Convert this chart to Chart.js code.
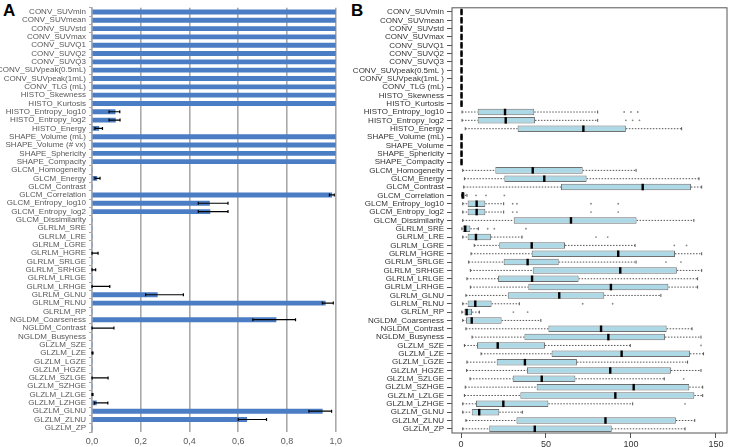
<!DOCTYPE html>
<html>
<head>
<meta charset="utf-8">
<script src="https://cdn.jsdelivr.net/npm/chart.js@4.4.1/dist/chart.umd.min.js"></script>
<style>
  body { margin: 0; background: #fff; width: 729px; height: 447px; position: relative; overflow: hidden; }
  canvas { position: absolute; top: 0; }
  #chartA { left: 0; }
  #chartB { left: 352px; }
  .tag { position: absolute; top: 1px; font: bold 17px "Liberation Sans", Arial, sans-serif; color: #000; }
</style>
</head>
<body>
<div class="tag" style="left:3px">A</div>
<div class="tag" style="left:351px">B</div>
<canvas id="chartA" width="346" height="447"></canvas>
<canvas id="chartB" width="377" height="447"></canvas>
<script>
const labelsA = [
  "CONV_SUVmin", "CONV_SUVmean", "CONV_SUVstd", "CONV_SUVmax", "CONV_SUVQ1", "CONV_SUVQ2", "CONV_SUVQ3",
  "CONV_SUVpeak(0.5mL)", "CONV_SUVpeak(1mL)", "CONV_TLG (mL)", "HISTO_Skewness", "HISTO_Kurtosis",
  "HISTO_Entropy_log10", "HISTO_Entropy_log2", "HISTO_Energy", "SHAPE_Volume (mL)", "SHAPE_Volume (# vx)",
  "SHAPE_Sphericity", "SHAPE_Compacity", "GLCM_Homogeneity", "GLCM_Energy", "GLCM_Contrast",
  "GLCM_Correlation", "GLCM_Entropy_log10", "GLCM_Entropy_log2", "GLCM_Dissimilarity", "GLRLM_SRE",
  "GLRLM_LRE", "GLRLM_LGRE", "GLRLM_HGRE", "GLRLM_SRLGE", "GLRLM_SRHGE", "GLRLM_LRLGE", "GLRLM_LRHGE",
  "GLRLM_GLNU", "GLRLM_RLNU", "GLRLM_RP", "NGLDM_Coarseness", "NGLDM_Contrast", "NGLDM_Busyness",
  "GLZLM_SZE", "GLZLM_LZE", "GLZLM_LGZE", "GLZLM_HGZE", "GLZLM_SZLGE", "GLZLM_SZHGE", "GLZLM_LZLGE",
  "GLZLM_LZHGE", "GLZLM_GLNU", "GLZLM_ZLNU", "GLZLM_ZP"
];
const labelsB = labelsA.map(l => l
  .replace("(0.5mL)", "(0.5mL )").replace("(1mL)", "(1mL )").replace("SHAPE_Volume (# vx)", "SHAPE_Volume"));

// panel A: bar value and error bar ends (null = no error bar)
const meanA = [1, 1, 1, 1, 1, 1, 1, 1, 1, 1, 1, 1, 0.095, 0.096, 0.028, 1, 1, 1, 1,
  0, 0.02, 0, 0.984, 0.482, 0.484, 0, 0, 0, 0, 0, 0, 0, 0, 0, 0.268, 0.957, 0,
  0.755, 0, 0, 0, 0, 0, 0, 0, 0, 0, 0.018, 0.945, 0.635, 0];
const errLowA = [null, null, null, null, null, null, null, null, null, null, null, null, 0.07, 0.07, 0.012, null, null, null, null,
  null, 0.012, null, 0.974, 0.436, 0.436, null, null, null, null, 0, null, 0, null, 0, 0.22, 0.945, null,
  0.66, 0, null, null, 0, null, null, 0, null, 0, 0.01, 0.89, 0.6, null];
const errHighA = [null, null, null, null, null, null, null, null, null, null, null, null, 0.114, 0.115, 0.043, null, null, null, null,
  null, 0.033, null, 0.994, 0.558, 0.558, null, null, null, null, 0.025, null, 0.015, null, 0.073, 0.375, 0.99, null,
  0.835, 0.09, null, null, 0.004, null, null, 0.066, null, 0.004, 0.065, 0.983, 0.716, null];
const ticksA = [0, 0.2, 0.4, 0.6, 0.8, 1.0];

// panel B: box plot five numbers and outliers
const loB = [0, 0, 0, 0, 0, 0, 0, 0, 0, 0, 0, 0, 0.6, 0.6, 2.5, 0, 0, 0, 0,
  1, 2, 1.6, 0.3, 1, 1, 1, 0.5, 1, 7.8, 5.9, 4.5, 5.5, 3.5, 5.5, 2.9, 1, 0.5,
  1, 2.9, 6.5, 2, 11.8, 3.5, 3.3, 5.3, 2.5, 2, 1, 1, 2.9, 1];
const q1B = [0, 0, 0, 0, 0, 0, 0, 0, 0, 0, 0, 0, 9.8, 9.8, 33.3, 0, 0, 0, 0,
  20.2, 25.5, 58.8, 0.4, 3.9, 3.9, 31, 1, 3.9, 22.5, 41.6, 25.1, 42.2, 21.8, 39.6, 27.5, 3.9, 2,
  2.9, 51.4, 37.3, 9.4, 53.3, 21, 38.8, 30.4, 44.5, 34.9, 8.8, 6.3, 32.6, 16.6];
const medB = [0.3, 0.3, 0.3, 0.3, 0.3, 0.3, 0.3, 0.3, 0.3, 0.3, 0.3, 0.3, 25.9, 26.3, 72, 0.3, 0.3, 0.3, 0.3,
  42.2, 49, 106.9, 1, 9.2, 9.2, 64.7, 2.5, 8.8, 41.6, 92.5, 39.2, 93.7, 41.8, 88.2, 57.8, 8.4, 3.3,
  6.3, 82.4, 86.7, 21.6, 94.5, 37.6, 87.8, 47.5, 101.6, 90.8, 24.9, 10.7, 85, 43.4];
const q3B = [0.6, 0.6, 0.6, 0.6, 0.6, 0.6, 0.6, 0.6, 0.6, 0.6, 0.6, 0.6, 43.1, 43.5, 97, 0.6, 0.6, 0.6, 0.6,
  71.6, 73.9, 135.3, 2.2, 14.3, 14.3, 103.3, 5.5, 17.6, 61.2, 125.9, 57.5, 127, 69.2, 122, 84.3, 18, 6.5,
  23.9, 121, 120, 49.4, 134.7, 68.2, 123.5, 67.3, 134.3, 137.3, 51.4, 22.5, 126.4, 88.7];
const hiB = [0.6, 0.6, 0.6, 0.6, 0.6, 0.6, 0.6, 0.6, 0.6, 0.6, 0.6, 0.6, 80.4, 80.4, 129.8, 0.6, 0.6, 0.6, 0.6,
  103, 140, 141.6, 3.5, 25.1, 25.1, 137, 10.2, 35.9, 102.4, 141.6, 103, 141.6, 139.2, 139.2, 117.6, 34.3, 10.8,
  47, 135.9, 141.2, 99.6, 142.7, 133.3, 141.2, 119.6, 142.2, 142.2, 101, 36.1, 137.5, 131.8];
const outB = [[], [], [], [], [], [], [], [], [], [], [], [], [96, 100, 104], [97, 101, 105], [], [], [], [], [],
  [], [], [], [8.8, 14.7, 25.5], [30.4, 32.9, 76.5, 92.5], [30.4, 32.9, 76.5, 92.5], [], [15.7, 19.6, 38.2], [79.4, 86.3],
  [125.5, 132.7], [], [120.6, 129.4], [], [], [], [], [71.6, 89.2], [30.8, 39.2],
  [], [], [], [141.2], [], [], [], [131], [], [], [131.8], [], [], []];
const ticksB = [0, 50, 100, 150];

const fontA = { family: "'Liberation Sans', Arial, sans-serif", size: 8 };
const fontB = { family: "'Liberation Sans', Arial, sans-serif", size: 8 };
const fontTicks = { family: "'Liberation Sans', Arial, sans-serif", size: 9 };

const errorBars = {
  id: 'errorBars',
  afterDatasetsDraw(chart) {
    const { ctx, scales: { x, y } } = chart;
    ctx.save();
    ctx.strokeStyle = '#000';
    ctx.lineWidth = 1.2;
    errLowA.forEach((lo, i) => {
      if (lo === null) return;
      const py = y.getPixelForValue(i);
      const x1 = x.getPixelForValue(lo), x2 = x.getPixelForValue(errHighA[i]);
      ctx.beginPath();
      ctx.moveTo(x1, py); ctx.lineTo(x2, py);
      ctx.moveTo(x1, py - 1.5); ctx.lineTo(x1, py + 1.5);
      ctx.moveTo(x2, py - 1.5); ctx.lineTo(x2, py + 1.5);
      ctx.stroke();
    });
    ctx.restore();
  }
};

const boxParts = {
  id: 'boxParts',
  beforeDatasetsDraw(chart) {
    // dashed whiskers with end staples
    const { ctx, scales: { x, y } } = chart;
    ctx.save();
    ctx.strokeStyle = '#555';
    ctx.lineWidth = 1;
    loB.forEach((lo, i) => {
      const py = y.getPixelForValue(i);
      ctx.setLineDash([1.5, 1.5]);
      ctx.beginPath();
      ctx.moveTo(x.getPixelForValue(lo), py); ctx.lineTo(x.getPixelForValue(q1B[i]), py);
      ctx.moveTo(x.getPixelForValue(q3B[i]), py); ctx.lineTo(x.getPixelForValue(hiB[i]), py);
      ctx.stroke();
      ctx.setLineDash([]);
      ctx.beginPath();
      [lo, hiB[i]].forEach(v => {
        const px = x.getPixelForValue(v);
        ctx.moveTo(px, py - 1.5); ctx.lineTo(px, py + 1.5);
      });
      ctx.stroke();
    });
    ctx.restore();
  },
  afterDatasetsDraw(chart) {
    const { ctx, scales: { x, y } } = chart;
    const meta = chart.getDatasetMeta(0);
    ctx.save();
    // medians
    ctx.strokeStyle = '#000';
    ctx.lineWidth = 2.4;
    medB.forEach((m, i) => {
      const bar = meta.data[i];
      const px = x.getPixelForValue(m), h = bar.height / 2;
      ctx.beginPath();
      ctx.moveTo(px, bar.y - h); ctx.lineTo(px, bar.y + h);
      ctx.stroke();
    });
    // outliers
    ctx.fillStyle = '#888';
    outB.forEach((list, i) => {
      const py = y.getPixelForValue(i);
      list.forEach(v => {
        ctx.beginPath();
        ctx.arc(x.getPixelForValue(v), py, 0.9, 0, Math.PI * 2);
        ctx.fill();
      });
    });
    ctx.restore();
  },
  afterDraw(chart) {
    const { ctx, chartArea: a } = chart;
    ctx.save();
    ctx.strokeStyle = '#555';
    ctx.lineWidth = 1;
    ctx.strokeRect(a.left, a.top, a.right - a.left, a.bottom - a.top);
    ctx.restore();
  }
};

new Chart(document.getElementById('chartA'), {
  type: 'bar',
  data: {
    labels: labelsA,
    datasets: [{ data: meanA, backgroundColor: '#4a7dc4', barThickness: 4.2 }]
  },
  options: {
    indexAxis: 'y',
    responsive: false,
    animation: false,
    layout: { padding: { top: 1, right: 8, left: 0, bottom: 0 } },
    plugins: { legend: { display: false }, tooltip: { enabled: false } },
    scales: {
      x: {
        min: 0, max: 1,
        afterBuildTicks: s => { s.ticks = ticksA.map(v => ({ value: v })); },
        ticks: { font: fontTicks, color: '#595959', padding: 4, callback: v => v.toFixed(1).replace('.', ',') },
        grid: { color: '#a9a9a9', lineWidth: 1.6, drawTicks: false },
        border: { display: false },
        afterFit: s => { s.height = 15; }
      },
      y: {
        ticks: { font: fontA, color: '#595959', padding: 3, autoSkip: false },
        grid: { drawOnChartArea: false, tickLength: 3, color: '#a9a9a9' },
        border: { color: '#a9a9a9', width: 1.6 },
        afterFit: s => { s.width = 92; }
      }
    }
  },
  plugins: [errorBars]
});

new Chart(document.getElementById('chartB'), {
  type: 'bar',
  data: {
    labels: labelsB,
    datasets: [{
      data: q1B.map((v, i) => [v, q3B[i]]),
      backgroundColor: '#add8e6',
      borderColor: '#707070',
      borderWidth: 1,
      borderSkipped: false,
      barPercentage: 0.78,
      categoryPercentage: 1
    }]
  },
  options: {
    indexAxis: 'y',
    responsive: false,
    animation: false,
    layout: { padding: { top: 1, right: 2, left: 0, bottom: 0 } },
    plugins: { legend: { display: false }, tooltip: { enabled: false } },
    scales: {
      x: {
        min: -5.3, max: 156.5,
        afterBuildTicks: s => { s.ticks = ticksB.map(v => ({ value: v })); },
        ticks: { font: fontTicks, color: '#333', padding: 1 },
        grid: { drawOnChartArea: false, tickLength: 5, color: '#555' },
        border: { display: false },
        afterFit: s => { s.height = 14; }
      },
      y: {
        ticks: { font: fontB, color: '#333', padding: 3, autoSkip: false },
        grid: { drawOnChartArea: false, offset: false, tickLength: 5, color: '#555' },
        border: { display: false },
        afterFit: s => { s.width = 100; }
      }
    }
  },
  plugins: [boxParts]
});
</script>
</body>
</html>
